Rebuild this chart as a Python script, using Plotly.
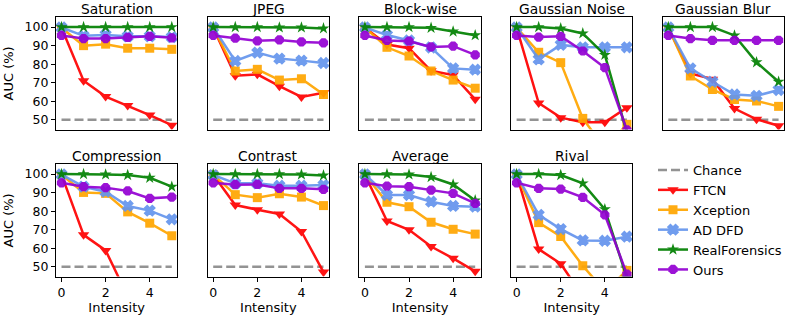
import plotly.graph_objects as go

W, H = 788, 319

intensity = [0, 1, 2, 3, 4, 5]
panels = ["Saturation", "JPEG", "Block-wise", "Gaussian Noise", "Gaussian Blur",
          "Compression", "Contrast", "Average", "Rival"]
chance = [50, 50, 50, 50, 50, 50]

ftcn = [
    [99.7, 71.0, 62.5, 57.6, 52.5, 47.0],
    [99.7, 73.7, 74.5, 68.1, 62.3, 64.5],
    [99.7, 90.6, 88.6, 76.4, 74.1, 61.0],
    [99.7, 59.0, 51.1, 48.6, 48.6, 56.5],
    [99.7, 75.0, 71.9, 56.0, 50.2, 46.7],
    [99.7, 67.2, 58.8, 34.0, 30.0, 28.0],
    [99.7, 83.3, 80.8, 78.5, 69.0, 47.1],
    [99.7, 74.7, 69.9, 60.9, 54.5, 47.5],
    [99.7, 59.5, 51.6, 34.0, 30.0, 29.0],
]
xception = [
    [99.7, 90.0, 90.8, 88.6, 88.6, 88.0],
    [99.7, 76.3, 77.2, 71.4, 72.1, 63.6],
    [99.7, 89.1, 84.4, 76.3, 71.4, 67.0],
    [99.7, 86.4, 80.8, 50.7, 34.5, 47.5],
    [99.7, 73.6, 66.3, 60.9, 60.1, 57.2],
    [99.7, 90.1, 89.6, 79.6, 73.5, 66.7],
    [99.7, 88.9, 87.3, 89.4, 87.6, 83.0],
    [99.7, 84.8, 82.4, 74.0, 70.2, 67.6],
    [99.7, 73.8, 66.3, 50.5, 36.7, 48.0],
]
ad_dfd = [
    [99.8, 95.3, 95.8, 95.0, 95.0, 94.6],
    [99.8, 81.7, 86.2, 83.0, 81.9, 80.6],
    [99.8, 95.7, 92.8, 89.0, 77.7, 77.0],
    [99.8, 82.6, 90.4, 89.1, 89.1, 89.1],
    [99.8, 77.7, 70.5, 63.6, 62.9, 66.0],
    [99.8, 93.2, 90.5, 82.8, 80.3, 75.6],
    [99.5, 95.0, 95.0, 93.7, 93.7, 94.1],
    [99.8, 88.7, 88.7, 85.1, 82.8, 82.4],
    [99.8, 78.0, 70.3, 64.2, 64.0, 66.2],
]
realforensics = [
    [100, 100, 100, 100, 100, 100],
    [100, 100, 100, 99.8, 99.8, 99.3],
    [100, 100, 100, 99.6, 97.6, 95.6],
    [100, 100, 99.3, 96.6, 85.0, 43.0],
    [100, 100, 100, 95.5, 81.0, 70.5],
    [100, 100, 99.8, 99.5, 98.0, 93.2],
    [100, 100, 100, 100, 99.8, 99.3],
    [100, 100, 99.8, 98.4, 94.4, 85.8],
    [100, 100, 99.5, 95.0, 81.0, 44.0],
]
ours = [
    [95.5, 93.8, 93.8, 94.4, 95.0, 94.2],
    [95.5, 94.0, 92.6, 93.1, 92.0, 91.5],
    [95.5, 92.8, 92.4, 89.3, 89.7, 85.0],
    [95.5, 94.6, 95.0, 87.1, 78.1, 44.5],
    [95.5, 93.8, 92.9, 92.9, 92.9, 92.9],
    [95.3, 93.2, 92.7, 90.9, 86.9, 87.6],
    [95.3, 94.3, 94.4, 92.3, 92.3, 91.8],
    [95.3, 93.5, 93.2, 91.4, 89.6, 84.2],
    [95.3, 92.3, 91.9, 87.5, 78.0, 46.0],
]

y_ticks = [50, 60, 70, 80, 90, 100]
x_ticks = [0, 2, 4]

methods = [
    ("FTCN", ftcn, "#ff0000", "triangle-down", 10, 0),
    ("Xception", xception, "#ffa500", "square", 9, 0),
    ("AD DFD", ad_dfd, "#6495ed", "x", 9, 1.5),
    ("RealForensics", realforensics, "#008000", "star", 9, 0),
    ("Ours", ours, "#9400d3", "octagon", 10, 0),
]

FONT = "DejaVu Sans"
col_left = [56, 207.7, 359.4, 511.1, 662.8]
col_w = 121.3
row_top = [17.3, 164.3]
row_h = 112.2

fig = go.Figure()
layout = dict(
    template="none",
    width=W, height=H, margin=dict(l=0, r=0, t=0, b=0, autoexpand=False),
    paper_bgcolor="white", plot_bgcolor="white",
    font=dict(family=FONT, size=12.5, color="black"),
    showlegend=True,
    legend=dict(x=653 / W, y=1 - 155 / H, xanchor="left", yanchor="top",
                bgcolor="rgba(0,0,0,0)", borderwidth=0, font=dict(size=13, family=FONT),
                itemwidth=30, tracegroupgap=0),
)
annotations = []

for i, name in enumerate(panels):
    r, c = divmod(i, 5)
    k = i + 1
    xa = "x" if k == 1 else f"x{k}"
    ya = "y" if k == 1 else f"y{k}"
    x0 = col_left[c] / W
    x1 = (col_left[c] + col_w) / W
    y1 = 1 - row_top[r] / H
    y0 = 1 - (row_top[r] + row_h) / H

    xaxis = dict(domain=[x0, x1], range=[-0.25, 5.25], anchor=ya, automargin=False,
                 showline=True, mirror=True, linecolor="black", linewidth=1.2,
                 showgrid=False, zeroline=False, fixedrange=True)
    if r == 1:
        xaxis.update(ticks="outside", tickvals=x_ticks, ticklen=4, tickwidth=1,
                     tickcolor="black", tickfont=dict(size=12.5),
                     title=dict(text="Intensity", font=dict(size=13), standoff=2))
    else:
        xaxis.update(showticklabels=False, ticks="")
    yaxis = dict(domain=[y0, y1], range=[44.7, 105.3], anchor=xa, automargin=False,
                 showline=True, mirror=True, linecolor="black", linewidth=1.2,
                 showgrid=False, zeroline=False, fixedrange=True)
    if c == 0:
        yaxis.update(ticks="outside", tickvals=y_ticks, ticklen=4, tickwidth=1,
                     tickcolor="black", tickfont=dict(size=12.5),
                     title=dict(text="AUC (%)", font=dict(size=13), standoff=7))
    else:
        yaxis.update(showticklabels=False, ticks="")
    layout["xaxis" if k == 1 else f"xaxis{k}"] = xaxis
    layout["yaxis" if k == 1 else f"yaxis{k}"] = yaxis

    annotations.append(dict(text=name, x=(x0 + x1) / 2, y=y1, xref="paper", yref="paper",
                            xanchor="center", yanchor="bottom", yshift=-2, showarrow=False,
                            font=dict(size=13.8, family=FONT)))

    fig.add_trace(go.Scatter(x=intensity, y=chance, xaxis=xa, yaxis=ya, mode="lines",
                             name="Chance", legendgroup="Chance", showlegend=(i == 0),
                             line=dict(color="rgba(128,128,128,0.85)", width=2.5, dash="9px,4px")))
    for label, data, color, symbol, size, mlw in methods:
        fig.add_trace(go.Scatter(x=intensity, y=data[i], xaxis=xa, yaxis=ya,
                                 mode="lines+markers", name=label, legendgroup=label,
                                 showlegend=(i == 0),
                                 line=dict(color=color, width=2.5),
                                 marker=dict(symbol=symbol, size=size, color=color,
                                             line=dict(width=mlw, color=color)),
                                 opacity=0.92))

layout["annotations"] = annotations
fig.update_layout(**layout)
fig.write_html("out.html", config={"displayModeBar": False},
               post_script="document.body.style.margin='0';document.body.style.overflow='hidden';")
